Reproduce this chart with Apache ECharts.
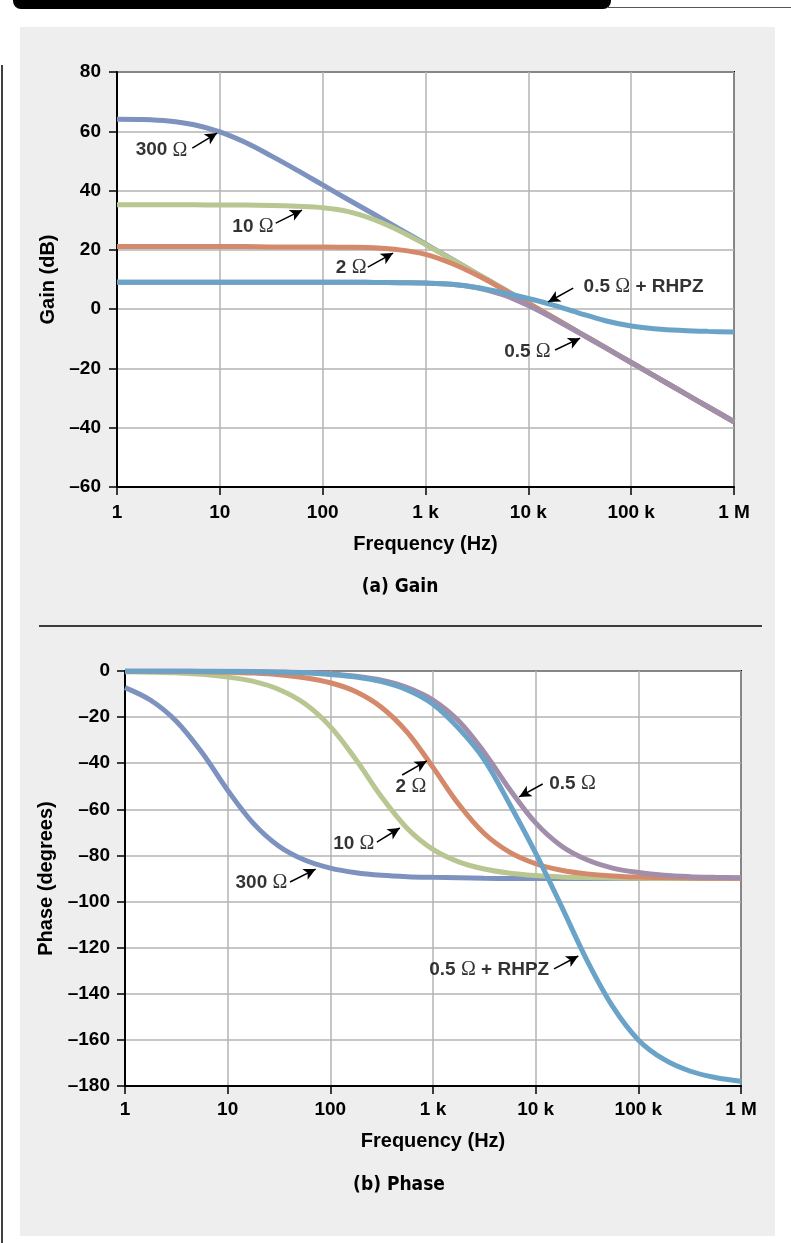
<!DOCTYPE html>
<html>
<head>
<meta charset="utf-8">
<script src="https://cdn.jsdelivr.net/npm/echarts@6/dist/echarts.min.js"></script>
<style>
html,body{margin:0;padding:0;background:#fff;}
#chart{width:791px;height:1243px;}
</style>
</head>
<body>
<div id="chart"></div>
<script>
// frequency points (Hz), quarter decades
const freq = [1, 1.78, 3.16, 5.62, 10, 17.8, 31.6, 56.2, 100, 178, 316, 562,
  1e3, 1.78e3, 3.16e3, 5.62e3, 1e4, 1.78e4, 3.16e4, 5.62e4, 1e5, 1.78e5, 3.16e5, 5.62e5, 1e6];
const freqLabels = ['1', '10', '100', '1 k', '10 k', '100 k', '1 M'];

// gain (dB)
const gain300 = [64.1, 64.0, 63.5, 62.2, 59.8, 56.2, 51.7, 46.9, 41.9, 36.9, 32.0, 27.0,
  22.0, 17.0, 12.0, 7.0, 2.0, -3.0, -8.0, -13.0, -18.0, -23.0, -28.0, -33.0, -38.0];
const gain10 = [35.2, 35.2, 35.2, 35.2, 35.1, 35.1, 35.0, 34.7, 34.2, 32.9, 30.2, 26.4,
  21.8, 16.9, 12.0, 7.0, 2.0, -3.0, -8.0, -13.0, -18.0, -23.0, -28.0, -33.0, -38.0];
const gain2 = [21.1, 21.1, 21.1, 21.1, 21.1, 21.1, 21.0, 21.0, 21.0, 20.9, 20.7, 20.0,
  18.5, 15.5, 11.5, 6.8, 1.9, -3.0, -8.0, -13.0, -18.0, -23.0, -28.0, -33.0, -38.0];
const gain05 = [9.1, 9.1, 9.1, 9.1, 9.1, 9.1, 9.1, 9.1, 9.1, 9.1, 9.0, 8.9,
  8.8, 8.4, 7.2, 4.9, 1.2, -3.3, -8.1, -13.0, -18.0, -23.0, -28.0, -33.0, -38.0];
const gainRhpz = [9.1, 9.1, 9.1, 9.1, 9.1, 9.1, 9.1, 9.1, 9.1, 9.1, 9.0, 8.9,
  8.8, 8.4, 7.3, 5.6, 3.6, 1.3, -1.4, -3.9, -5.7, -6.7, -7.2, -7.5, -7.7];

// phase (degrees)
const phase300 = [-7.2, -12.7, -21.8, -35.4, -51.7, -66.1, -76.0, -82.0, -85.5, -87.5, -88.6, -89.2,
  -89.5, -89.7, -89.9, -90, -90, -90, -90, -90, -90, -90, -90, -90, -90];
const phase10 = [-0.3, -0.5, -0.8, -1.4, -2.6, -4.5, -8.0, -14.1, -24.1, -38.5, -54.7, -68.3,
  -77.4, -82.8, -85.9, -87.7, -88.7, -89.3, -89.6, -89.8, -89.9, -90, -90, -90, -90];
const phase2 = [-0.1, -0.1, -0.2, -0.3, -0.5, -0.9, -1.6, -2.9, -5.1, -9.0, -15.8, -26.6,
  -41.8, -57.8, -70.5, -78.7, -83.6, -86.4, -88.0, -88.9, -89.4, -89.6, -89.8, -89.9, -89.9];
const phase05 = [0, 0, 0, -0.1, -0.1, -0.2, -0.4, -0.7, -1.3, -2.3, -4.0, -7.2,
  -12.6, -21.7, -35.3, -51.5, -65.9, -75.9, -81.9, -85.5, -87.4, -88.6, -89.2, -89.5, -89.7];
const phaseRhpz = [0, 0, 0, -0.1, -0.2, -0.3, -0.5, -0.8, -1.5, -2.6, -4.6, -8.2,
  -14.4, -24.9, -38.5, -58.0, -79.0, -102.0, -125.5, -145.5, -160.0, -168.5, -173.5, -176.3, -177.9];

const colors = {r300: '#7e92bf', r10: '#b8c691', r2: '#d5896b', r05: '#a08eab', rhpz: '#6aa3c8'};

// callouts: text, arrow tail, arrow head, text anchor, text side
const gainNotes = [
  {text: '300 Ω', tail: [5.4, 54.3], head: [9.4, 59.4], at: [4.9, 53.6], side: 'left'},
  {text: '10 Ω', tail: [35, 29.0], head: [63, 33.4], at: [33.7, 27.7], side: 'left'},
  {text: '2 Ω', tail: [275, 14.2], head: [484, 18.9], at: [270, 13.8], side: 'left'},
  {text: '0.5 Ω + RHPZ', tail: [27300, 7.1], head: [15600, 2.4], at: [34100, 7.4], side: 'right'},
  {text: '0.5 Ω', tail: [18200, -13.8], head: [31900, -9.8], at: [16700, -14.5], side: 'left'}
];
const phaseNotes = [
  {text: '300 Ω', tail: [40.5, -91.5], head: [72, -85.9], at: [38.6, -91.9], side: 'left'},
  {text: '10 Ω', tail: [284, -74.2], head: [475, -68.1], at: [272, -75.0], side: 'left'},
  {text: '2 Ω', tail: [501, -45.1], head: [870, -39.0], at: [609, -50.3], side: 'inside'},
  {text: '0.5 Ω', tail: [11700, -49.0], head: [6900, -54.6], at: [13400, -49.0], side: 'right'},
  {text: '0.5 Ω + RHPZ', tail: [15100, -129.2], head: [26000, -123.6], at: [13700, -129.7], side: 'left'}
];

const FONT = "'Liberation Sans', Arial, sans-serif";
const txt = {fontFamily: FONT, fontWeight: 'bold', color: '#000'};

function xAxisFor(gi, nameGap, margin) {
  return {
    type: 'log', logBase: 10, gridIndex: gi, min: 1, max: 1e6, splitNumber: 6,
    name: 'Frequency (Hz)', nameLocation: 'middle', nameGap: nameGap,
    nameTextStyle: Object.assign({fontSize: 20}, txt),
    axisLine: {onZero: false, lineStyle: {color: '#000', width: 2}},
    axisTick: {show: true, length: 8, lineStyle: {color: '#000', width: 1.5}},
    minorTick: {show: false},
    axisLabel: Object.assign({fontSize: 19, margin: margin,
      formatter: v => freqLabels[Math.round(Math.log10(v))]}, txt),
    splitLine: {show: true, lineStyle: {color: '#b3b3b3', width: 1.5}}
  };
}

function yAxisFor(gi, name, min, max, nameGap, margin) {
  return {
    type: 'value', gridIndex: gi, min: min, max: max, interval: 20,
    name: name, nameLocation: 'middle', nameGap: nameGap,
    nameTextStyle: Object.assign({fontSize: 20}, txt),
    axisLine: {show: true, lineStyle: {color: '#000', width: 2}},
    axisTick: {show: true, length: 8, lineStyle: {color: '#000', width: 1.5}},
    axisLabel: Object.assign({fontSize: 19, margin: margin,
      formatter: v => String(v).replace('-', '\u2013')}, txt),
    splitLine: {show: true, lineStyle: {color: '#b3b3b3', width: 1.5}}
  };
}

function curve(name, values, color, gi) {
  return {
    type: 'line', name: name, xAxisIndex: gi, yAxisIndex: gi,
    data: freq.map((f, i) => [f, values[i]]),
    smooth: 0.35, showSymbol: false, symbol: 'none',
    lineStyle: {color: color, width: 5}, itemStyle: {color: color},
    emphasis: {disabled: true}, animation: false
  };
}

function richText(s) {
  return s.split('Ω').map(p => p ? '{n|' + p + '}' : '').join('{o|Ω}');
}

function callouts(notes, gi) {
  return {
    type: 'scatter', xAxisIndex: gi, yAxisIndex: gi, symbolSize: 1,
    itemStyle: {color: 'rgba(0,0,0,0)'}, silent: true, animation: false, z: 10,
    data: notes.map(n => ({
      value: n.at,
      label: {show: true, position: n.side, distance: 0, formatter: richText(n.text),
        rich: {
          n: {fontFamily: FONT, fontWeight: 'bold', fontSize: 19, color: '#000'},
          o: {fontFamily: "'Liberation Serif', serif", fontSize: 20, color: '#000'}
        }}
    })),
    markLine: {
      silent: true, animation: false, symbol: ['none', 'arrow'], symbolSize: [9, 12],
      label: {show: false}, emphasis: {disabled: true},
      lineStyle: {color: '#000', width: 1.5, type: 'solid'},
      data: notes.map(n => [{coord: n.tail}, {coord: n.head}])
    }
  };
}

const chart = echarts.init(document.getElementById('chart'), null, {renderer: 'canvas'});
chart.setOption({
  animation: false,
  backgroundColor: '#fff',
  grid: [
    {left: 117, top: 72, width: 617, height: 415, show: true, backgroundColor: '#fff',
      borderColor: '#000', borderWidth: 2, containLabel: false, outerBoundsMode: 'none'},
    {left: 125, top: 671, width: 616, height: 415, show: true, backgroundColor: '#fff',
      borderColor: '#000', borderWidth: 2, containLabel: false, outerBoundsMode: 'none'}
  ],
  xAxis: [xAxisFor(0, 47, 16), xAxisFor(1, 45, 14)],
  yAxis: [yAxisFor(0, 'Gain (dB)', -60, 80, 48, 16), yAxisFor(1, 'Phase (degrees)', -180, 0, 65, 15)],
  graphic: [
    {type: 'rect', z: -100, shape: {x: 20, y: 27, width: 755, height: 1209}, style: {fill: '#eeeeee'}},
    {type: 'rect', z: -90, shape: {x: 13, y: -12, width: 598, height: 21, r: 8}, style: {fill: '#000'}},
    {type: 'line', z: -90, shape: {x1: 608, y1: 7.5, x2: 791, y2: 7.5}, style: {stroke: '#555', lineWidth: 1.2}},
    {type: 'line', z: -90, shape: {x1: 2, y1: 65, x2: 2, y2: 1243}, style: {stroke: '#000', lineWidth: 1.5}},
    {type: 'line', z: -90, shape: {x1: 39, y1: 626, x2: 762, y2: 626}, style: {stroke: '#000', lineWidth: 1.5}},
    {type: 'text', x: 400, y: 587, style: {text: '(a) Gain', fontFamily: "'DejaVu Sans Condensed', 'Liberation Sans Narrow', sans-serif",
      fontWeight: 'bold', fontSize: 19, fill: '#000', align: 'center', verticalAlign: 'middle'}},
    {type: 'text', x: 399, y: 1185, style: {text: '(b) Phase', fontFamily: "'DejaVu Sans Condensed', 'Liberation Sans Narrow', sans-serif",
      fontWeight: 'bold', fontSize: 19, fill: '#000', align: 'center', verticalAlign: 'middle'}}
  ],
  series: [
    curve('300 Ω', gain300, colors.r300, 0),
    curve('10 Ω', gain10, colors.r10, 0),
    curve('2 Ω', gain2, colors.r2, 0),
    curve('0.5 Ω', gain05, colors.r05, 0),
    curve('0.5 Ω + RHPZ', gainRhpz, colors.rhpz, 0),
    callouts(gainNotes, 0),
    curve('300 Ω', phase300, colors.r300, 1),
    curve('10 Ω', phase10, colors.r10, 1),
    curve('2 Ω', phase2, colors.r2, 1),
    curve('0.5 Ω', phase05, colors.r05, 1),
    curve('0.5 Ω + RHPZ', phaseRhpz, colors.rhpz, 1),
    callouts(phaseNotes, 1)
  ]
});
</script>
</body>
</html>
